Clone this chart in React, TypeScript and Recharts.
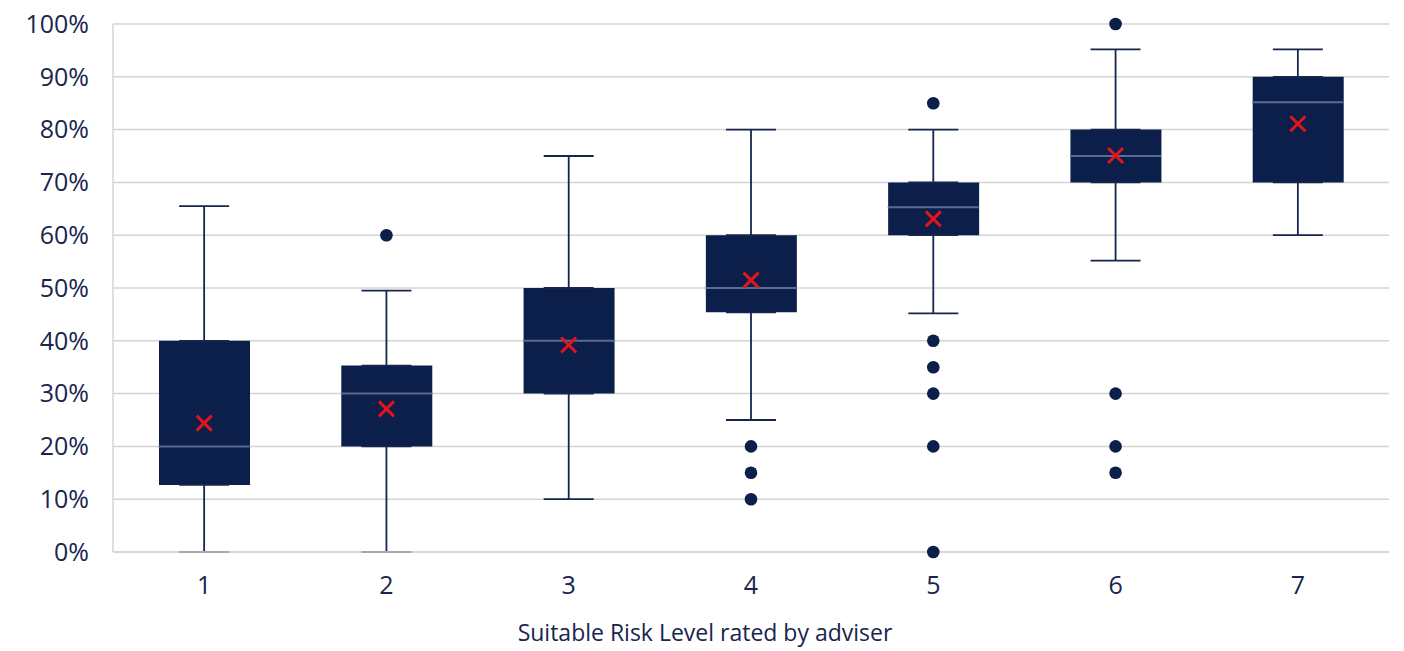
import {
  Bar,
  CartesianGrid,
  ComposedChart,
  ErrorBar,
  Label,
  Scatter,
  XAxis,
  YAxis,
} from "recharts";

// Equity share (%) by suitable risk level, one box per level
const levels = ["1", "2", "3", "4", "5", "6", "7"];
const whiskerLow = [0, 0, 10, 25, 45.2, 55.2, 60];
const q1 = [12.7, 20, 30, 45.4, 60, 70, 70];
const median = [20, 30, 40, 50, 65.3, 75, 85.2];
const q3 = [40, 35.3, 50, 60, 70, 80, 90];
const whiskerHigh = [65.5, 49.5, 75, 80, 80, 95.2, 95.2];
const mean = [24.4, 27.1, 39.2, 51.5, 63.1, 75.1, 81.1];

const outlierLevels = ["2", "4", "4", "4", "5", "5", "5", "5", "5", "5", "6", "6", "6", "6"];
const outlierValues = [60, 20, 15, 10, 85, 40, 35, 30, 20, 0, 100, 30, 20, 15];

const yTicks = [0, 10, 20, 30, 40, 50, 60, 70, 80, 90, 100];

const NAVY = "#0c1f4a";
const INK = "#17254f";
const GRID = "#d4d4d4";
const BOX_W = 91;

const rows = levels.map((level, i) => ({
  level,
  box: [q1[i], q3[i]],
  q1: q1[i],
  q3: q3[i],
  median: median[i],
  mean: mean[i],
  lowerWhisker: [q1[i] - whiskerLow[i], 0],
  upperWhisker: [0, whiskerHigh[i] - q3[i]],
}));

const outliers = outlierLevels.map((level, i) => ({ level, value: outlierValues[i] }));

const Hidden = () => <g />;

const MedianLine = ({ cx, cy }: any) => (
  <line
    x1={cx - BOX_W / 2}
    x2={cx + BOX_W / 2}
    y1={cy}
    y2={cy}
    stroke="#5b6a8d"
    strokeWidth={2}
  />
);

const MeanCross = ({ cx, cy }: any) => (
  <g stroke="#e3141b" strokeWidth={3}>
    <line x1={cx - 7.5} y1={cy - 7.5} x2={cx + 7.5} y2={cy + 7.5} />
    <line x1={cx - 7.5} y1={cy + 7.5} x2={cx + 7.5} y2={cy - 7.5} />
  </g>
);

const OutlierDot = ({ cx, cy }: any) => <circle cx={cx} cy={cy} r={6.3} fill={NAVY} />;

const AxisTitle = () => (
  <text x={705} y={641} textAnchor="middle" fill={INK} fontSize={23}>
    Suitable Risk Level rated by adviser
  </text>
);

export default function App() {
  return (
    <div style={{ position: "absolute", left: 0, top: 0, background: "#fff" }}>
      <ComposedChart
        width={1404}
        height={651}
        data={rows}
        margin={{ top: 24, right: 15, bottom: 0, left: 0 }}
        style={{ fontFamily: "'Open Sans', sans-serif" }}
      >
        <CartesianGrid stroke={GRID} strokeWidth={1.5} vertical={false} />
        <XAxis
          dataKey="level"
          type="category"
          allowDuplicatedCategory={false}
          height={99}
          axisLine={{ stroke: GRID, strokeWidth: 1.5 }}
          tickLine={false}
          tickSize={0}
          tickMargin={24}
          tick={{ fill: INK, fontSize: 25 }}
        >
          <Label content={<AxisTitle />} />
        </XAxis>
        <YAxis
          type="number"
          domain={[0, 100]}
          ticks={yTicks}
          interval={0}
          width={113}
          axisLine={{ stroke: GRID, strokeWidth: 1.5 }}
          tickLine={false}
          tickSize={0}
          tickMargin={24}
          tick={{ fill: INK, fontSize: 25 }}
          tickFormatter={(v) => `${v}%`}
        />
        <Bar dataKey="box" fill={NAVY} barSize={BOX_W} isAnimationActive={false} />
        <Scatter dataKey="q3" shape={<Hidden />} isAnimationActive={false}>
          <ErrorBar dataKey="upperWhisker" direction="y" width={25} stroke={INK} strokeWidth={1.8} />
        </Scatter>
        <Scatter dataKey="q1" shape={<Hidden />} isAnimationActive={false}>
          <ErrorBar dataKey="lowerWhisker" direction="y" width={25} stroke={INK} strokeWidth={1.8} />
        </Scatter>
        <Scatter dataKey="median" shape={<MedianLine />} isAnimationActive={false} />
        <Scatter dataKey="mean" shape={<MeanCross />} isAnimationActive={false} />
        <Scatter
          data={outliers}
          dataKey="value"
          shape={<OutlierDot />}
          isAnimationActive={false}
        />
      </ComposedChart>
    </div>
  );
}
